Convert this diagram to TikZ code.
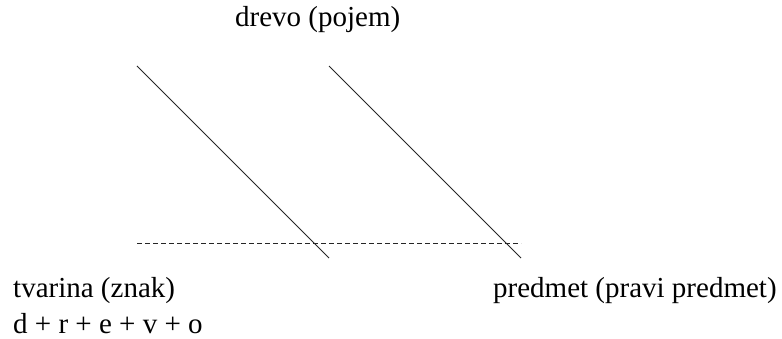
\documentclass[tikz,border=0pt]{standalone}
\usepackage{fontspec}
\setmainfont{Liberation Serif}
\begin{document}
\begin{tikzpicture}[x=1pt,y=-1pt,
  lbl/.style={anchor=base west,inner sep=0pt,font=\fontsize{29}{35}\selectfont},
  ln/.style={line width=1pt,black!85},
  dsh/.style={line width=1pt,black!85,dash pattern=on 5pt off 3pt}]
\useasboundingbox (0,0) rectangle (782,339);
\node[lbl] (pojem) at (235,27) {drevo (pojem)};
\node[lbl] (znak) at (13,298) {tvarina (znak)};
\node[lbl] (crke) at (13,333) {d + r + e + v + o};
\node[lbl] (predmet) at (493,298) {predmet (pravi predmet)};
\coordinate (a1) at (137,66);
\coordinate (a2) at (329,258);
\coordinate (b1) at (329,66);
\coordinate (b2) at (521,258);
\coordinate (d1) at (137,244);
\coordinate (d2) at (521,244);
\draw[ln] (a1) -- (a2);
\draw[ln] (b1) -- (b2);
\draw[dsh] (d1) -- (d2);
\end{tikzpicture}
\end{document}
